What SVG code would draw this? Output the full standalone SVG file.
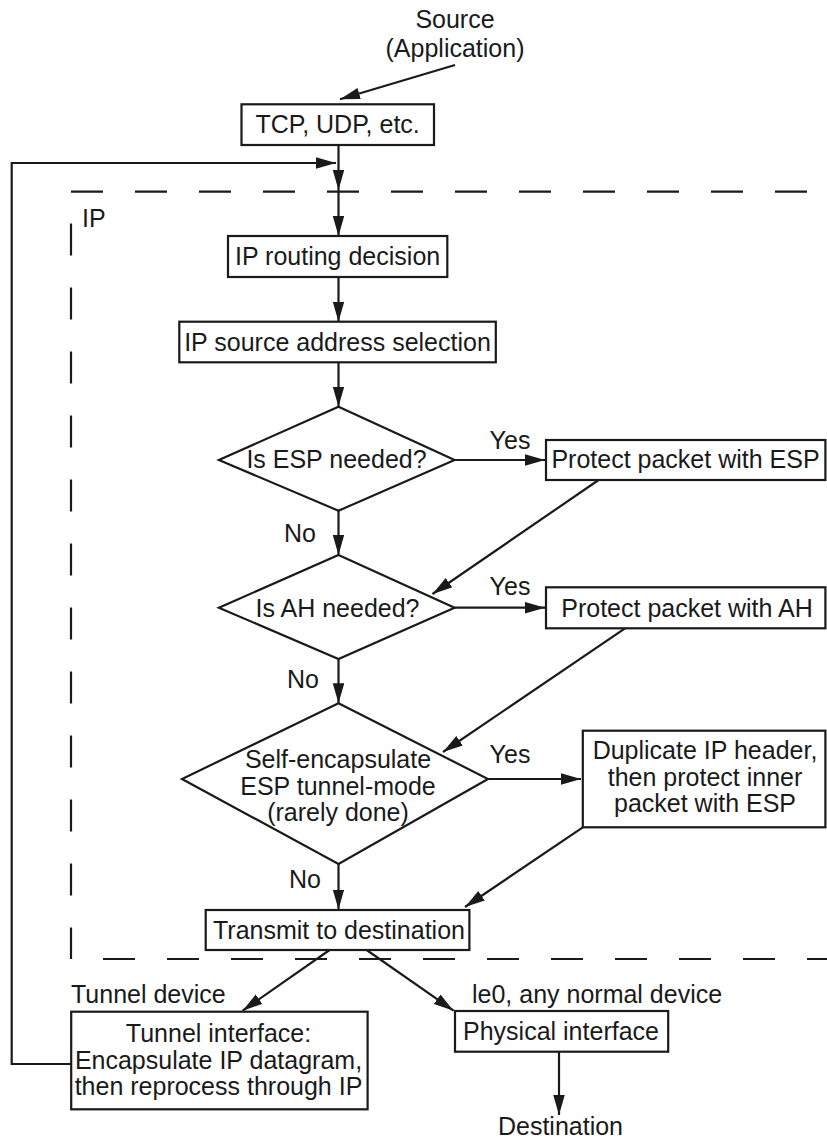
<svg xmlns="http://www.w3.org/2000/svg" width="827" height="1139" viewBox="0 0 827 1139">
<defs>
<marker id="ah" markerUnits="userSpaceOnUse" markerWidth="21" markerHeight="12" refX="20" refY="5.75" orient="auto">
<path d="M0,0 L20,5.75 L0,11.5 z" fill="#1a1a1a"/>
</marker>
<style>
text{font-family:"Liberation Sans",Arial,Helvetica,sans-serif;font-size:25px;fill:#1a1a1a}
.m{text-anchor:middle}
.box{fill:#fff;stroke:#1a1a1a;stroke-width:2.2}
.ln{fill:none;stroke:#1a1a1a;stroke-width:2.2}
.ar{fill:none;stroke:#1a1a1a;stroke-width:2.2;marker-end:url(#ah)}
.dash{fill:none;stroke:#1a1a1a;stroke-width:2.2;stroke-dasharray:32 32}
</style>
</defs>
<rect width="827" height="1139" fill="#fff"/>

<g id="ip-boundary">
<line class="dash" x1="71" y1="191.7" x2="827" y2="191.7"/>
<line class="dash" x1="71" y1="223.5" x2="71" y2="959"/>
<line class="dash" x1="103" y1="959" x2="827" y2="959"/>
<text x="82" y="227">IP</text>
</g>

<g id="connectors">
<line class="ar" x1="455" y1="65" x2="340" y2="99.3"/>
<line class="ar" x1="338.5" y1="145" x2="338.5" y2="190"/>
<line class="ar" x1="338.5" y1="190" x2="338.5" y2="236"/>
<polyline class="ar" points="71,1064 11.7,1064 11.7,163 336,163"/>
<line class="ar" x1="338.5" y1="277" x2="338.5" y2="321.7"/>
<line class="ar" x1="338.5" y1="362.3" x2="338.5" y2="406.7"/>
<line class="ar" x1="454.6" y1="460" x2="545" y2="460"/>
<line class="ar" x1="338.5" y1="510.7" x2="338.5" y2="555"/>
<line class="ar" x1="598.6" y1="480" x2="432.5" y2="594"/>
<line class="ar" x1="454.6" y1="607.7" x2="545" y2="607.7"/>
<line class="ar" x1="338.5" y1="659" x2="338.5" y2="703.3"/>
<line class="ar" x1="625" y1="628.3" x2="443" y2="752"/>
<line class="ar" x1="488" y1="779" x2="581" y2="779"/>
<line class="ar" x1="338.5" y1="864" x2="338.5" y2="909.5"/>
<line class="ar" x1="582.8" y1="827.3" x2="465" y2="907"/>
<line class="ar" x1="329.6" y1="950" x2="242.6" y2="1010.7"/>
<line class="ar" x1="366.6" y1="950" x2="453.6" y2="1010.7"/>
<line class="ar" x1="559" y1="1051.7" x2="559" y2="1115"/>
<text class="m" x="510" y="449">Yes</text>
<text class="m" x="300" y="542">No</text>
<text class="m" x="510" y="595">Yes</text>
<text class="m" x="303" y="688">No</text>
<text class="m" x="510" y="763">Yes</text>
<text class="m" x="305" y="888">No</text>
<text x="71" y="1003">Tunnel device</text>
<text x="472" y="1003">le0, any normal device</text>
</g>

<g id="source">
<text class="m" x="455" y="28">Source</text>
<text class="m" x="455" y="57">(Application)</text>
</g>

<g id="tcp">
<rect class="box" x="241.5" y="104.3" width="192.5" height="40.7"/>
<text class="m" x="337.6" y="133">TCP, UDP, etc.</text>
</g>

<g id="routing">
<rect class="box" x="228" y="236" width="219.3" height="41"/>
<text class="m" x="337.6" y="265">IP routing decision</text>
</g>

<g id="srcaddr">
<rect class="box" x="179.3" y="321.7" width="316.5" height="40.6"/>
<text class="m" x="337.5" y="351">IP source address selection</text>
</g>

<g id="esp-q">
<polygon class="box" points="338.5,406.7 454.6,460 338.5,510.7 218.9,460"/>
<text class="m" x="336.5" y="468">Is ESP needed?</text>
</g>

<g id="esp-box">
<rect class="box" x="546" y="440" width="279.4" height="40"/>
<text class="m" x="685.5" y="468">Protect packet with ESP</text>
</g>

<g id="ah-q">
<polygon class="box" points="338.5,555 454.6,607.7 338.5,659 218.9,607.7"/>
<text class="m" x="337.5" y="617">Is AH needed?</text>
</g>

<g id="ah-box">
<rect class="box" x="546" y="587.3" width="279.4" height="41"/>
<text class="m" x="687" y="617">Protect packet with AH</text>
</g>

<g id="tunnel-q">
<polygon class="box" points="338.5,703.3 488,779 338.5,864 182,779"/>
<text class="m" x="338" y="768">Self-encapsulate</text>
<text class="m" x="338" y="795">ESP tunnel-mode</text>
<text class="m" x="338" y="821">(rarely done)</text>
</g>

<g id="dup-box">
<rect class="box" x="582.8" y="730.7" width="242.6" height="96.6"/>
<text class="m" x="705" y="759">Duplicate IP header,</text>
<text class="m" x="705" y="785.5">then protect inner</text>
<text class="m" x="705" y="812">packet with ESP</text>
</g>

<g id="transmit">
<rect class="box" x="205.7" y="910" width="263.7" height="40"/>
<text class="m" x="339" y="939">Transmit to destination</text>
</g>

<g id="tunnel-if">
<rect class="box" x="71.2" y="1011.7" width="296.4" height="97.6"/>
<text class="m" x="218.5" y="1042">Tunnel interface:</text>
<text class="m" x="218.5" y="1068.5">Encapsulate IP datagram,</text>
<text class="m" x="218.5" y="1095">then reprocess through IP</text>
</g>

<g id="physical">
<rect class="box" x="455" y="1011" width="213.2" height="40.7"/>
<text class="m" x="561" y="1040">Physical interface</text>
</g>

<g id="destination">
<text class="m" x="560.5" y="1135">Destination</text>
</g>
</svg>
